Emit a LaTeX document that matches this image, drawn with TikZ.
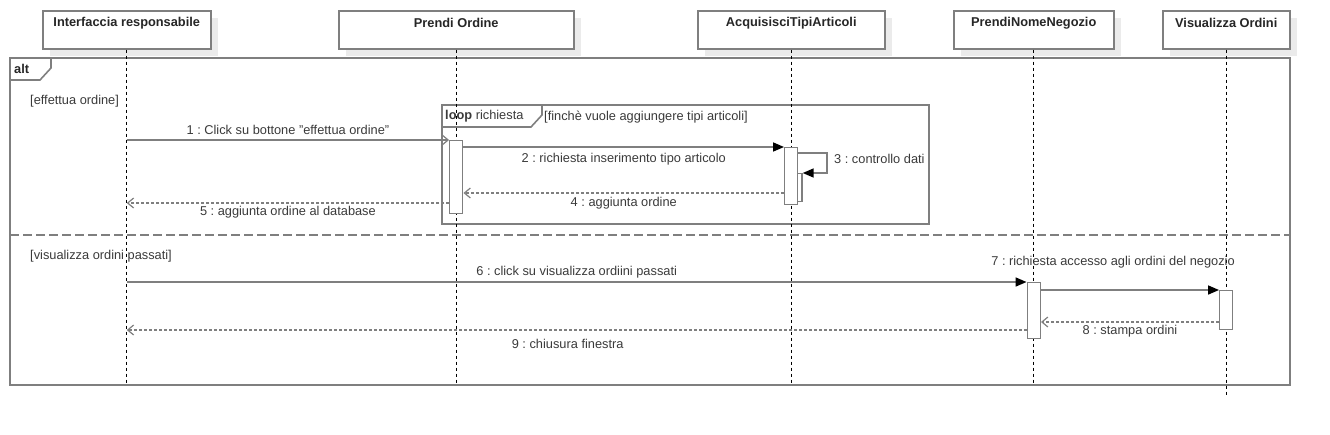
\documentclass[tikz,border=0pt]{standalone}
\usepackage{fontspec}
\setmainfont{Liberation Sans}
\usetikzlibrary{arrows.meta, shadows}
\frenchspacing

\definecolor{framegray}{HTML}{7F7F7F}
\definecolor{textgray}{HTML}{3A3A3A}

\tikzset{
	head/.style = {draw = framegray, fill = white, line width = 1.5pt, anchor = north west, minimum height = 38pt, inner sep = 0pt, drop shadow = {shadow xshift = 7pt, shadow yshift = -7pt, fill = black!8, opacity = 1}},
	headtext/.style = {font = \bfseries\fontsize{12.8}{15}\selectfont, text = black!85, inner sep = 1pt},
	life/.style = {black, line width = .8pt, dash pattern = on 3pt off 3pt},
	frame/.style = {draw = framegray, line width = 1.6pt},
	act/.style = {draw = framegray, fill = white, line width = 1.4pt, anchor = north, inner sep = 0pt, minimum width = 13pt},
	call/.style = {draw = framegray, line width = 1.6pt, -{Triangle[length = 11pt, width = 9pt, black]}},
	async/.style = {draw = framegray, line width = 1.6pt, -{Straight Barb[length = 6pt, width = 10pt, line width = 1.2pt]}},
	reply/.style = {draw = framegray, line width = 1.6pt, dash pattern = on 3pt off 2pt, -{Straight Barb[length = 6pt, width = 10pt, line width = 1.2pt]}},
	lbl/.style = {font = \fontsize{12.8}{15}\selectfont, text = textgray, inner sep = 1pt},
}

\begin{document}
\begin{tikzpicture}[x = 1pt, y = -1pt]
	\useasboundingbox (0, 0) rectangle (1330, 434);
	
	% 对象
	\node [head, minimum width = 168pt] (resp) at (42, 10) {};
	\node [head, minimum width = 235pt] (ordine) at (338, 10) {};
	\node [head, minimum width = 187pt] (tipi) at (697, 10) {};
	\node [head, minimum width = 160pt] (negozio) at (953, 10) {};
	\node [head, minimum width = 127pt] (visual) at (1162, 10) {};
	\node [headtext] (tResp) at ([yshift = -13pt] resp.north) {Interfaccia responsabile};
	\node [headtext] (tOrdine) at ([yshift = -13pt] ordine.north) {Prendi Ordine};
	\node [headtext] (tTipi) at ([yshift = -13pt] tipi.north) {AcquisisciTipiArticoli};
	\node [headtext] (tNegozio) at ([yshift = -13pt] negozio.north) {PrendiNomeNegozio};
	\node [headtext] (tVisual) at ([yshift = -13pt] visual.north) {Visualizza Ordini};
	
	% alt
	\draw [frame] (10, 58) rectangle (1290, 385);
	\draw [frame] (10, 80) -- (40, 80) -- (51, 68) -- (51, 58);
	\node [headtext, anchor = west] (tAlt) at (13, 69) {alt};
	\draw [frame, dash pattern = on 9pt off 4pt] (10, 235) -- (1290, 235);
	\node [lbl, anchor = west] (g1) at (29, 101) {[effettua ordine]};
	\node [lbl, anchor = west] (g2) at (29, 256) {[visualizza ordini passati]};
	
	% loop
	\draw [frame] (442, 105) rectangle (929, 224);
	\draw [frame] (442, 127) -- (531, 127) -- (542, 115) -- (542, 105);
	\node [lbl, anchor = west] (tLoop) at (444, 116) {\textbf{loop} richiesta};
	\node [lbl, anchor = west] (g3) at (543, 117) {[finchè vuole aggiungere tipi articoli]};
	
	% 生命线
	\draw [life] (resp.south) -- ++(0, 335);
	\draw [life] (ordine.south) -- ++(0, 335);
	\draw [life] (tipi.south) -- ++(0, 335);
	\draw [life] (negozio.south) -- ++(0, 335);
	\draw [life] (visual.south) -- ++(0, 347);
	
	% 激活
	\node [act, minimum height = 73pt] (aOrd) at (ordine.south |- 0, 140) {};
	\node [act, minimum width = 6pt, minimum height = 28pt] (aCtrl) at (799, 173) {};
	\node [act, minimum height = 57pt] (aTipi) at (tipi.south |- 0, 147) {};
	\node [act, minimum height = 56pt] (aNeg) at (negozio.south |- 0, 282) {};
	\node [act, minimum height = 39pt] (aVis) at (visual.south |- 0, 290) {};
	
	% 消息
	\draw [async] (resp.south |- aOrd.north) -- (aOrd.north west)
		node [lbl, midway, yshift = 10pt] (l1) {1 : Click su bottone "effettua ordine"};
	\draw [call] (aOrd.east |- aTipi.north) -- (aTipi.north west)
		node [lbl, midway, yshift = -12pt] (l2) {2 : richiesta inserimento tipo articolo};
	\draw [call] ([yshift = -6pt] aTipi.north east) -| ([xshift = 24pt] aCtrl.north east) -- (aCtrl.north east);
	\node [lbl, anchor = west] (l3) at (833, 159) {3 : controllo dati};
	\draw [reply] (aTipi.west |- 0, 193) -- (aOrd.east |- 0, 193)
		node [lbl, midway, yshift = -10pt] (l4) {4 : aggiunta ordine};
	\draw [reply] (aOrd.west |- 0, 203) -- (resp.south |- 0, 203)
		node [lbl, midway, yshift = -9pt] (l5) {5 : aggiunta ordine al database};
	
	\draw [call] (resp.south |- aNeg.north) -- (aNeg.north west)
		node [lbl, midway, yshift = 10pt] (l6) {6 : click su visualizza ordiini passati};
	\draw [call] (aNeg.east |- aVis.north) -- (aVis.north west);
	\node [lbl] (l7) at (1113, 262) {7 : richiesta accesso agli ordini del negozio};
	\draw [reply] (aVis.west |- 0, 322) -- (aNeg.east |- 0, 322)
		node [lbl, midway, yshift = -9pt] (l8) {8 : stampa ordini};
	\draw [reply] (aNeg.west |- 0, 330) -- (resp.south |- 0, 330)
		node [lbl, pos = .51, yshift = -14pt] (l9) {9 : chiusura finestra};
\end{tikzpicture}
\end{document}
